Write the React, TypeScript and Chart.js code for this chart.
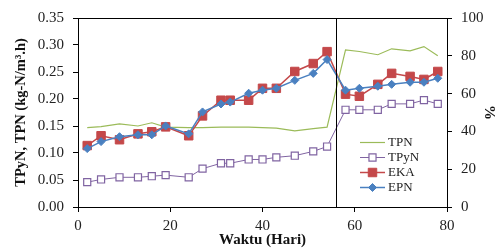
import { useEffect, useRef } from "react";
import { Chart, registerables } from "chart.js";

Chart.register(...registerables);

// ---- Data ----
const days = [2, 5, 9, 13, 16, 19, 24, 27, 31, 33, 37, 40, 43, 47, 51, 54, 58, 61, 65, 68, 72, 75, 78];
const tpn = [0.147, 0.149, 0.154, 0.15, 0.156, 0.148, 0.147, 0.147, 0.148, 0.148, 0.148, 0.147, 0.146, 0.141, 0.145, 0.148, 0.291, 0.288, 0.282, 0.293, 0.289, 0.297, 0.28];
const tpyn = [0.046, 0.051, 0.055, 0.055, 0.057, 0.059, 0.055, 0.071, 0.081, 0.081, 0.088, 0.088, 0.092, 0.095, 0.103, 0.112, 0.18, 0.18, 0.18, 0.191, 0.191, 0.198, 0.191];
const eka = [32.5, 37.7, 35.6, 38.7, 39.8, 42.4, 37.7, 48.2, 56.5, 56.5, 56.5, 62.8, 62.8, 71.7, 75.9, 82.2, 59.7, 58.6, 64.9, 70.7, 69.1, 67.5, 71.7];
const epn = [30.9, 34.6, 37.2, 38.2, 38.2, 42.9, 38.7, 50.3, 54.5, 55.5, 60.2, 61.8, 62.8, 67.0, 70.7, 78.0, 61.8, 62.8, 63.9, 64.9, 66.0, 66.0, 68.1];
const dividerDay = 56;
const xTicks = [0, 20, 40, 60, 80];
const leftTicks = [0, 0.05, 0.1, 0.15, 0.2, 0.25, 0.3, 0.35];
const rightTicks = [0, 20, 40, 60, 80, 100];
const seriesNames = ["TPN", "TPyN", "EKA", "EPN"];

const FONT = "'Liberation Serif', 'Times New Roman', serif";
const GREEN = "#9bbb59";
const PURPLE = "#8064a2";
const RED = "#c4484a";
const BLUE = "#4a80c0";

const pts = (ys: number[]) => days.map((d, i) => ({ x: d, y: ys[i] }));

const overlay = {
  id: "overlay",
  afterDatasetsDraw(chart: any) {
    const { ctx, chartArea, scales } = chart;
    const { left, right, top, bottom } = chartArea;
    ctx.save();
    ctx.strokeStyle = "#000";
    ctx.lineWidth = 1;
    // top frame
    ctx.beginPath();
    ctx.moveTo(left, Math.round(top) + 0.5);
    ctx.lineTo(right, Math.round(top) + 0.5);
    ctx.stroke();
    // divider
    const vx = Math.round(scales.x.getPixelForValue(dividerDay)) + 0.5;
    ctx.beginPath();
    ctx.moveTo(vx, top);
    ctx.lineTo(vx, bottom);
    ctx.stroke();

    // legend
    const lx = left + 282;
    const ll = 25;
    const tx = lx + ll + 3;
    const y0 = top + 124;
    const dy = 15;
    ctx.font = `13px ${FONT}`;
    ctx.textBaseline = "middle";
    ctx.textAlign = "left";
    chart.data.datasets.forEach((ds: any, i: number) => {
      const y = Math.round(y0 + i * dy) + 0.5;
      ctx.strokeStyle = ds.borderColor;
      ctx.lineWidth = ds.borderWidth;
      ctx.beginPath();
      ctx.moveTo(lx, y);
      ctx.lineTo(lx + ll, y);
      ctx.stroke();
      const cx = lx + ll / 2;
      const r = ds.pointRadius;
      if (r > 0) {
        ctx.fillStyle = ds.pointBackgroundColor;
        ctx.strokeStyle = ds.pointBorderColor;
        ctx.lineWidth = ds.pointBorderWidth;
        ctx.beginPath();
        if (ds.pointStyle === "rectRot") {
          ctx.moveTo(cx, y - r);
          ctx.lineTo(cx + r, y);
          ctx.lineTo(cx, y + r);
          ctx.lineTo(cx - r, y);
          ctx.closePath();
        } else {
          const s = (r * Math.SQRT2) / 2;
          ctx.rect(cx - s, y - s, 2 * s, 2 * s);
        }
        ctx.fill();
        ctx.stroke();
      }
      ctx.fillStyle = "#222";
      ctx.fillText(seriesNames[i], tx, y + 0.5);
    });
    ctx.restore();
  },
};

export default function App() {
  const ref = useRef<HTMLCanvasElement>(null);
  useEffect(() => {
    document.body.style.margin = "0";
    const canvas = ref.current!;
    const tickFont = { family: FONT, size: 15 };
    const chart = new Chart(canvas, {
      type: "line",
      data: {
        datasets: [
          {
            label: seriesNames[0],
            data: pts(tpn),
            yAxisID: "y",
            borderColor: GREEN,
            backgroundColor: GREEN,
            borderWidth: 1.2,
            pointRadius: 0,
            pointBackgroundColor: GREEN,
            pointBorderColor: GREEN,
            pointBorderWidth: 0,
            order: 3,
          },
          {
            label: seriesNames[1],
            data: pts(tpyn),
            yAxisID: "y",
            borderColor: PURPLE,
            backgroundColor: "#fff",
            borderWidth: 1,
            pointStyle: "rect",
            pointRadius: 5,
            pointBackgroundColor: "#fff",
            pointBorderColor: PURPLE,
            pointBorderWidth: 1.2,
            order: 2,
          },
          {
            label: seriesNames[2],
            data: pts(eka),
            yAxisID: "y1",
            borderColor: RED,
            backgroundColor: RED,
            borderWidth: 1.5,
            pointStyle: "rect",
            pointRadius: 6,
            pointBackgroundColor: RED,
            pointBorderColor: RED,
            pointBorderWidth: 1,
            order: 1,
          },
          {
            label: seriesNames[3],
            data: pts(epn),
            yAxisID: "y1",
            borderColor: BLUE,
            backgroundColor: BLUE,
            borderWidth: 1.5,
            pointStyle: "rectRot",
            pointRadius: 4,
            pointBackgroundColor: BLUE,
            pointBorderColor: BLUE,
            pointBorderWidth: 1,
            order: 0,
          },
        ] as any,
      },
      options: {
        responsive: false,
        animation: false,
        devicePixelRatio: 1,
        layout: { padding: { top: 16, left: 0, right: 0, bottom: 0 } },
        plugins: { legend: { display: false }, tooltip: { enabled: false } },
        elements: { line: { tension: 0 } },
        scales: {
          x: {
            type: "linear",
            min: 0,
            max: 80,
            afterBuildTicks: (s: any) => {
              s.ticks = xTicks.map((v) => ({ value: v }));
            },
            afterFit: (s: any) => {
              s.height = 41;
            },
            ticks: { font: tickFont, color: "#222", padding: 5, maxRotation: 0 },
            grid: { drawOnChartArea: false, tickLength: 5, color: "#000" },
            border: { color: "#000", width: 1 },
            title: {
              display: true,
              text: "Waktu (Hari)",
              color: "#111",
              font: { family: FONT, size: 15, weight: "bold", lineHeight: 1 },
              padding: 0,
            },
          },
          y: {
            type: "linear",
            position: "left",
            min: 0,
            max: 0.35,
            afterBuildTicks: (s: any) => {
              s.ticks = leftTicks.map((v) => ({ value: v }));
            },
            afterFit: (s: any) => {
              s.width = 78;
            },
            ticks: {
              font: tickFont,
              color: "#222",
              padding: 9,
              callback: (v: any) => Number(v).toFixed(2),
            },
            grid: { drawOnChartArea: false, tickLength: 5, color: "#000" },
            border: { color: "#000", width: 1 },
            title: {
              display: true,
              text: "TPyN, TPN (kg-N/m³.h)",
              color: "#111",
              font: { family: FONT, size: 14.5, weight: "bold", lineHeight: 1.2 },
              padding: { top: 13, bottom: 0 },
            },
          },
          y1: {
            type: "linear",
            position: "right",
            min: 0,
            max: 100,
            afterBuildTicks: (s: any) => {
              s.ticks = rightTicks.map((v) => ({ value: v }));
            },
            afterFit: (s: any) => {
              s.width = 49;
            },
            ticks: { font: tickFont, color: "#222", padding: 9 },
            grid: { drawOnChartArea: false, tickLength: 5, color: "#000" },
            border: { color: "#000", width: 1 },
            title: {
              display: true,
              text: "%",
              color: "#111",
              font: { family: FONT, size: 15, weight: "bold", lineHeight: 1 },
              padding: { top: 0, bottom: 0 },
            },
          },
        },
      } as any,
      plugins: [overlay],
    });
    return () => chart.destroy();
  }, []);
  return (
    <div style={{ width: 496, height: 248 }}>
      <canvas ref={ref} width={496} height={248} style={{ display: "block" }} />
    </div>
  );
}
